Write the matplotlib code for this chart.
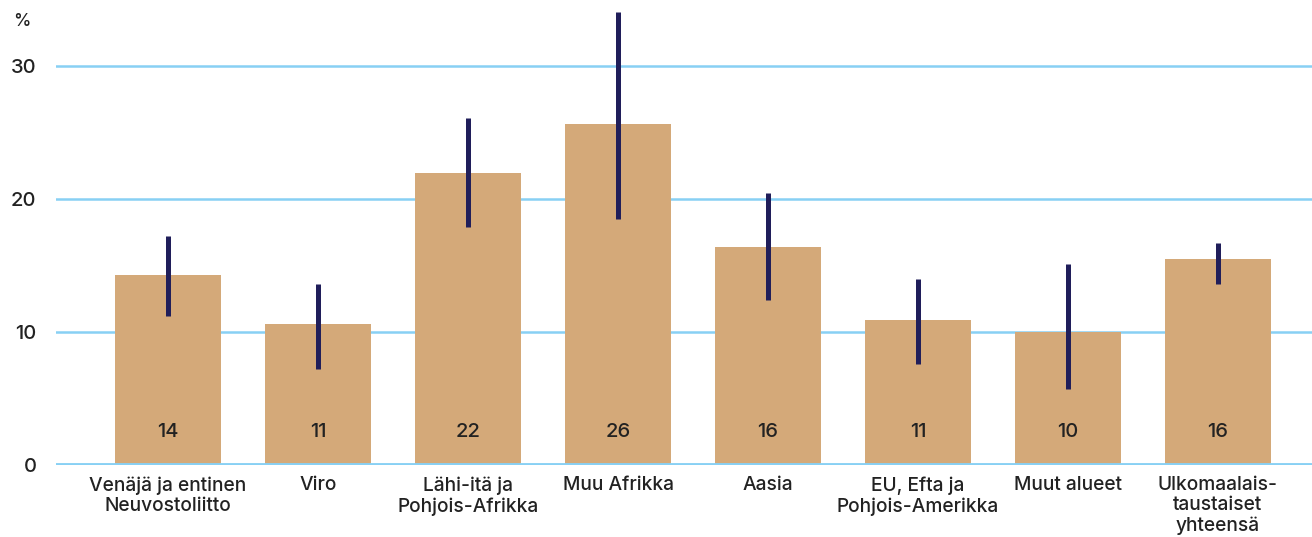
import numpy as np
import matplotlib.pyplot as plt

plt.rcParams['font.family'] = ['Inter', 'DejaVu Sans']

# data
categories = ["Venäjä ja entinen\nNeuvostoliitto", "Viro", "Lähi-itä ja\nPohjois-Afrikka",
              "Muu Afrikka", "Aasia", "EU, Efta ja\nPohjois-Amerikka", "Muut alueet",
              "Ulkomaalais-\ntaustaiset\nyhteensä"]
values = [14.3, 10.6, 22.0, 25.7, 16.4, 10.9, 10.0, 15.5]
labels = ["14", "11", "22", "26", "16", "11", "10", "16"]
ci_low = [11.2, 7.2, 17.9, 18.5, 12.4, 7.6, 5.7, 13.6]
ci_high = [17.2, 13.6, 26.1, 34.1, 20.5, 14.0, 15.1, 16.7]

bar_color = "#D4A979"
err_color = "#201E5A"
grid_color = "#88D0F4"
text_color = "#222222"

fig = plt.figure(figsize=(13.12, 5.37), dpi=100)
ax = fig.add_axes([56 / 1312, 72 / 537, 1 - 56 / 1312, 465 / 537])

x = np.arange(len(categories))
ax.bar(x, values, width=0.707, color=bar_color, zorder=2)
ax.vlines(x, ci_low, ci_high, color=err_color, linewidth=3.6, zorder=3)

for xi, lab in zip(x, labels):
    ax.text(xi, 2.5, lab, ha="center", va="center", fontsize=14.5,
            fontweight="medium", color=text_color, zorder=4)

for gy in [10, 20, 30]:
    ax.axhline(gy, color=grid_color, linewidth=1.8, zorder=1)
ax.axhline(0, color=grid_color, linewidth=3.5, zorder=4)

ax.set_xlim(-0.747, 7.627)
ax.set_ylim(0, 35)
ax.set_yticks([0, 10, 20, 30])
ax.set_yticklabels(["0", "10", "20", "30"], fontsize=14.5, fontweight="medium", color=text_color)
ax.tick_params(axis="y", length=0, pad=14)
ax.set_xticks(x)
ax.set_xticklabels(categories, fontsize=13.8, fontweight="medium", color=text_color,
                   linespacing=1.17)
ax.tick_params(axis="x", length=0, pad=8)
for s in ax.spines.values():
    s.set_visible(False)

fig.text(22 / 1312, 1 - 22 / 537, "%", ha="center", va="center", fontsize=12.5,
         fontweight="medium", color=text_color)

fig.savefig("out.png", dpi=100)
